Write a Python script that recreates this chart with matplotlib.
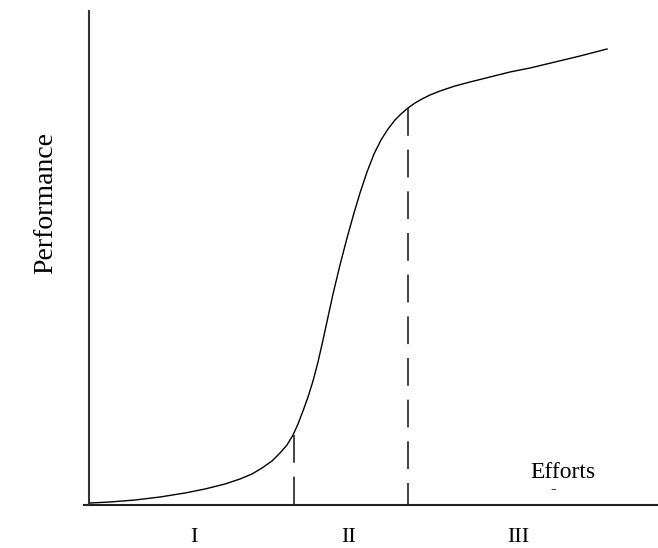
import matplotlib
matplotlib.use("Agg")
import matplotlib.pyplot as plt

plt.rcParams['font.family'] = ['Liberation Serif', 'DejaVu Serif']
plt.rcParams['lines.scale_dashes'] = False

# curve (effort -> performance, arbitrary units)
effort = [1, 21, 46, 71, 96, 116, 136, 151, 163, 173, 183, 191, 198, 204, 209, 214,
          219, 224, 229, 234, 239, 244, 251, 258, 265, 271, 278, 285, 292, 299, 306,
          312, 319, 326, 333, 341, 351, 366, 381, 401, 421, 441, 466, 491, 518]
performance = [2, 3, 5, 8, 12, 16, 21, 26, 31, 37, 44, 52, 60, 70, 81, 94, 108, 124,
               143, 165, 188, 211, 240, 267, 292, 312, 333, 351, 365, 376, 385, 391,
               397, 402, 406, 410, 414, 419, 423, 428, 433, 437, 443, 449, 456]

# stage boundaries (dashed verticals) and stage names
stage_bounds = [205, 319]
stage_tops = [70, 397]
stage_names = ['I', 'II', 'III']
stage_centers = [105, 260, 429]

fig = plt.figure(figsize=(6.58, 5.48), dpi=100)
ax = fig.add_axes([89 / 658, 43 / 548, 569 / 658, 495 / 548])
ax.set_xlim(0, 569)
ax.set_ylim(0, 495)
ax.axis('off')

# axes drawn by hand so the x axis pokes slightly past the y axis
ax.plot([-6, 569], [0, 0], color='#222222', lw=1.5, clip_on=False, solid_capstyle='butt')
ax.plot([0, 0], [0, 495], color='#333333', lw=1.5, clip_on=False, solid_capstyle='butt')

ax.plot(effort, performance, color='black', lw=1.0, clip_on=False)

for xb, top in zip(stage_bounds, stage_tops):
    ax.plot([xb, xb], [top, 0], color='#222222', lw=1.2, dashes=(20, 10))

for name, xc in zip(stage_names, stage_centers):
    ax.text(xc, -32, name, ha='center', va='center', fontsize=16, clip_on=False)

ax.text(474, 33, 'Efforts', ha='center', va='center', fontsize=17)
ax.text(464, 16, '-', ha='center', va='center', fontsize=12)
ax.text(-43, 302, 'Performance', ha='center', va='center', rotation=90,
        fontsize=20, clip_on=False)

fig.savefig('out.png', dpi=100)
